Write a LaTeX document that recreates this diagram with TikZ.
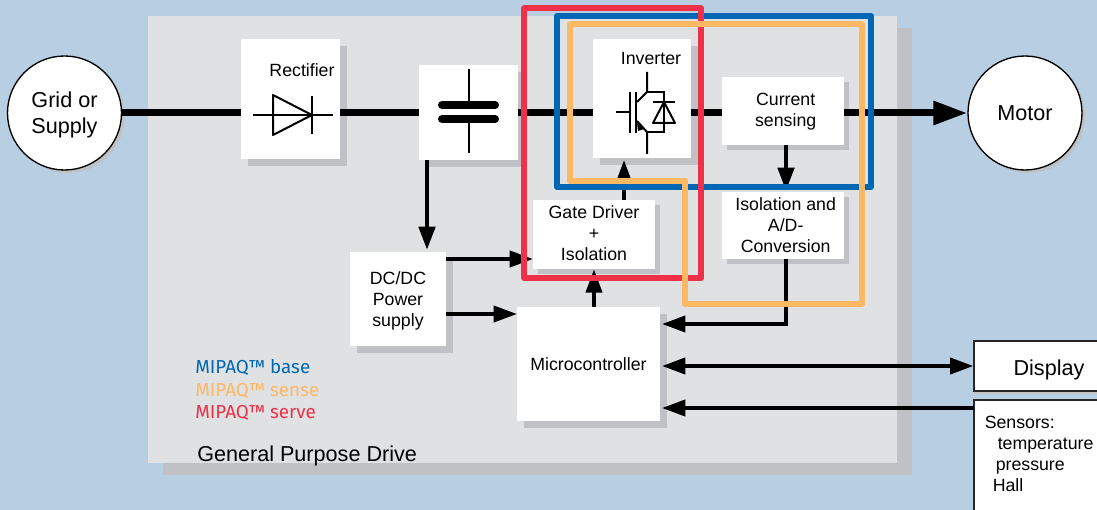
\documentclass[tikz,border=0pt]{standalone}
\usepackage{fontspec}
\setmainfont{Liberation Sans}
\newfontfamily\fira{Fira Sans}
\usetikzlibrary{arrows.meta,shadows}
\definecolor{bgblue}{HTML}{B8CEE3}
\definecolor{panelgray}{HTML}{E0E1E3}
\definecolor{shadegray}{HTML}{C0C1C5}
\definecolor{mipaqblue}{HTML}{0067B5}
\definecolor{mipaqorange}{HTML}{FDB863}
\definecolor{mipaqred}{HTML}{EE3148}
\tikzset{
  wh/.style 2 args={minimum width=#1*0.75pt,minimum height=#2*0.75pt},
  shade/.style={drop shadow={shadow xshift=#1*0.75pt,shadow yshift=-#1*0.75pt,fill=shadegray,opacity=1}},
  block/.style={fill=white,inner sep=0,align=center,font=\fontsize{13.3}{15.75}\selectfont},
  big/.style={circle,draw,fill=white,line width=1pt,inner sep=0,minimum size=85.5pt,align=center,
    shade=3,font=\fontsize{16.2}{19.5}\selectfont},
  outer/.style={draw=black!85,fill=white,line width=1pt,inner sep=0,align=center,font=\fontsize{16.2}{19.5}\selectfont},
  txt/.style={inner sep=0,text height=10pt,text depth=3pt,font=\fontsize{13.3}{15.75}\selectfont},
  mipaq/.style={inner sep=0,anchor=west,text height=10pt,text depth=3pt,font=\fira\fontsize{14.1}{15}\selectfont},
  wire/.style={line width=3pt},
  fat/.style={line width=5.25pt},
  head/.style={-{Triangle[length=17.5pt,width=12pt]}},
  sym/.style={line width=1.5pt},
  frame/.style={line width=4.5pt,line join=round}
}
\begin{document}
\begin{tikzpicture}[x=0.75pt,y=-0.75pt]
\useasboundingbox (0,0) rectangle (1097,510);
\clip (0,0) rectangle (1097,510);
\fill[bgblue] (0,0) rectangle (1097,510);

\node[fill=panelgray,inner sep=0,wh={749}{447},drop shadow={shadow xshift=11.5pt,shadow yshift=-9pt,fill=shadegray,opacity=1}] (drive) at (522.5,239.5) {};
\node[inner sep=0,anchor=west,font=\fontsize{16.2}{19.5}\selectfont] (drivetext) at (197,456) {General Purpose Drive};

\node[big,text depth=0pt] (grid) at (64.5,113) {Grid or\\Supply};
\node[big] (motor) at (1025,113) {Motor};
\node[block,wh={99}{120},shade=7] (rectifier) at (290.5,99) {};
\node[block,wh={99}{95},shade=7] (cap) at (468.5,112.5) {};
\node[block,wh={98}{119},shade=7] (inverter) at (642,98.5) {};
\node[block,wh={122}{68},shade=5,text depth=1.5pt] (current) at (783,111) {\hspace*{4pt}Current\\\hspace*{4pt}sensing};
\node[block,wh={122}{67},shade=5] (iso) at (783,225.5) {\hspace*{4pt}Isolation and\\\hspace*{4pt}A/D-\\\hspace*{4pt}Conversion};
\node[block,wh={122}{69},shade=5,text depth=2pt] (gate) at (594,234.5) {Gate Driver\\+\hspace*{6pt}\\Isolation};
\node[block,wh={96}{94},shade=7,text depth=0pt] (dc) at (398,299) {DC/DC\\Power\\supply};
\node[block,wh={143}{114},shade=7] (micro) at (588.5,364) {Microcontroller};
\node[outer,wh={150}{50},text height=14.2pt,text depth=0pt,drop shadow={shadow xshift=0pt,shadow yshift=-2pt,fill=shadegray,opacity=1}] (display) at (1049,366) {Display};
\node[outer,wh={180}{160}] (sensors) at (1064,480) {};

\node[txt] (rectifiertext) at (302,71.5) {Rectifier};
\node[txt] (invertertext) at (651,59.5) {Inverter};
\node[txt,anchor=west] (s1) at (984.5,424) {Sensors:};
\node[txt,anchor=west] (s2) at (997.5,445) {temperature};
\node[txt,anchor=west] (s3) at (995.5,466) {pressure};
\node[txt,anchor=west] (s4) at (992.5,487) {Hall};
\node[mipaq,text=mipaqblue] (base) at (195,368.5) {MIPAQ™ base};
\node[mipaq,text=mipaqorange] (sense) at (195,391.5) {MIPAQ™ sense};
\node[mipaq,text=mipaqred] (serve) at (195,413.5) {MIPAQ™ serve};

\coordinate (dcin) at (427,250);
\coordinate (gateup) at (624,160);
\coordinate (csdown) at (786,191);
\coordinate (gatein) at (533,259);
\coordinate (microdc) at (517,314);
\coordinate (microin) at (662,324);
\coordinate (sensout) at (974,408);

\draw[fat] (grid.east) -- (grid.east -| rectifier.west);
\draw[fat] (grid.east -| rectifier.east) -- (grid.east -| cap.west);
\draw[fat] (grid.east -| cap.east) -- (grid.east -| inverter.west);
\draw[fat] (grid.east -| inverter.east) -- (grid.east -| current.west);
\draw[fat,-{Triangle[length=25.5pt,width=17pt]}] (grid.east -| current.east) -- (motor.west);

\draw[wire,line width=3.5pt,head] (cap.south -| dcin) -- (dcin);
\draw[wire,line width=3.5pt,head] (current.south -| csdown) -- (csdown);
\draw[wire,head] (gateup |- gate.north) -- (gateup);
\draw[wire,head] (dc.east |- gatein) -- (gatein);
\draw[wire,head] (dc.east |- microdc) -- (microdc);
\draw[wire,head] (micro.north -| gate) -- (gate.south);
\draw[wire,head] (iso.south -| csdown) |- (microin);
\draw[wire,{Triangle[length=17.5pt,width=12pt]}-{Triangle[length=17.5pt,width=12pt]}] (microin |- display.west) -- (display.west);
\draw[wire,head] (sensout) -- (microin |- sensout);

\draw[sym] (253,115) -- (333,115);
\draw[sym,line join=round] (273,95) -- (273,135) -- (312,115) -- cycle;
\draw[sym] (312,96) -- (312,134);

\draw[sym] (468.5,69) -- (468.5,105);
\draw[sym] (468.5,119) -- (468.5,153);
\draw[line width=6pt,line cap=round] (442,105) -- (495,105);
\draw[line width=6pt,line cap=round] (442,119) -- (495,119);

\draw[sym] (616,112) -- (630,112);
\draw[sym] (630,92) -- (630,133);
\draw[sym] (636,92) -- (636,133);
\draw[sym] (647,72) -- (647,92) -- (637,102);
\draw[sym] (647,92) -- (664,92) -- (664,132) -- (647,132);
\draw[sym] (637,121) -- (647,132) -- (647,154);
\fill (644,129) -- (637,123) -- (638,131) -- cycle;
\draw[sym,line join=round] (664,102) -- (653,123) -- (675,123) -- cycle;
\draw[sym] (653,102) -- (675,102);

\draw[frame,mipaqblue] (557,16) rectangle (871,187);
\draw[frame,mipaqred] (524,8.5) rectangle (701,278);
\draw[frame,mipaqorange] (570,24.5) -- (862,24.5) -- (862,303.5) -- (684.5,303.5) -- (684.5,180.5) -- (570,180.5) -- cycle;
\end{tikzpicture}
\end{document}
